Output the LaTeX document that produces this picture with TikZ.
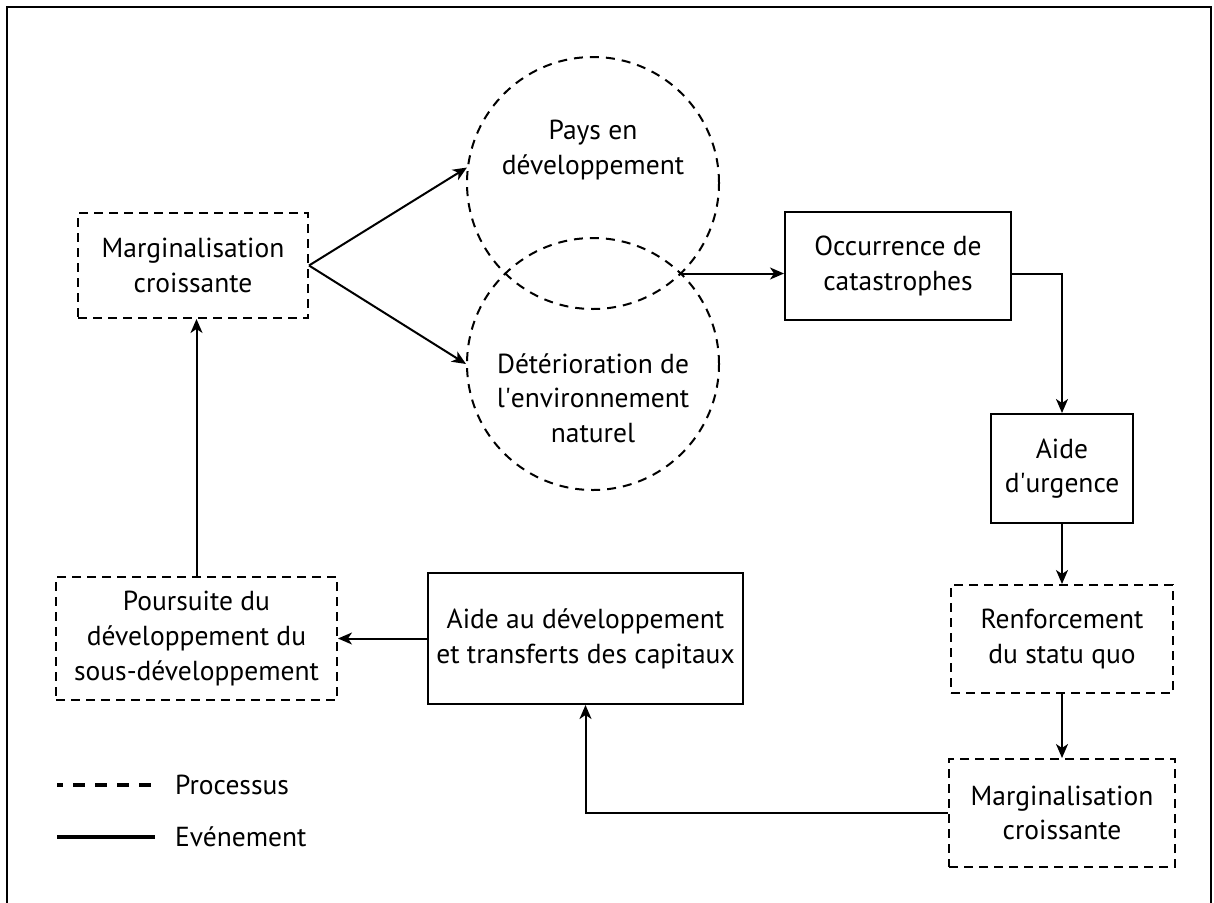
\documentclass[tikz,border=0pt]{standalone}
\usepackage{fontspec}
\setmainfont{PT Sans}
\usetikzlibrary{arrows.meta,calc}
\begin{document}
\begin{tikzpicture}[x=1pt,y=-1pt,
  every node/.style={font=\fontsize{27.5}{34.7}\selectfont, align=center, inner sep=0pt},
  evt/.style={draw, line width=2pt, rectangle},
  proc/.style={draw, line width=2pt, dash pattern=on 9pt off 6pt, rectangle},
  circ/.style={draw, line width=2pt, dash pattern=on 9pt off 7pt, circle, minimum size=252pt},
  conn/.style={line width=2pt},
  arr/.style={conn, -{Stealth[length=14pt,width=12pt,inset=4pt]}},
]
\useasboundingbox (0,0) rectangle (1214,902);
\draw[line width=2.5pt] (7,905) -- (7,7) -- (1211,7) -- (1211,905);

\node[proc, minimum width=230pt, minimum height=105pt] (m1) at (193,265.5) {Marginalisation\\croissante};
\node[circ] (c1) at (593,183) {};
\node[circ] (c2) at (593,364) {};
\node (t1) at (593,150) {Pays en\\développement};
\node (t2) at (593,398) {Détérioration de\\l\textquotesingle environnement\\naturel};
\coordinate (ix) at (681,273.5);

\node[evt, minimum width=226pt, minimum height=108pt] (occ) at (898,266) {Occurrence de\\catastrophes};
\node[evt, minimum width=142pt, minimum height=109pt] (urg) at (1062,468.5) {Aide\\d\textquotesingle urgence};
\node[proc, minimum width=222pt, minimum height=108pt] (ren) at (1062,639) {Renforcement\\du statu quo};
\node[proc, minimum width=226pt, minimum height=108pt] (m2) at (1062,813) {Marginalisation\\croissante};
\node[evt, minimum width=315pt, minimum height=131pt] (adv) at (585.5,638.5) {Aide au développement\\et transferts des capitaux};
\node[proc, minimum width=281pt, minimum height=123pt] (pou) at (196.5,638.5) {Poursuite du\\développement du\\sous-développement};

\draw[arr] (m1.east) -- (c1.173);
\draw[arr] (m1.east) -- (c2.west);
\draw[arr] (ix) -- (ix -| occ.west);
\draw[arr] (occ.east |- ix) -| (urg.north);
\draw[arr] (urg.south) -- (ren.north);
\draw[arr] (ren.south) -- (m2.north);
\draw[arr] (m2.west) -| (adv.south);
\draw[arr] (adv.west) -- (pou.east);
\draw[arr] (pou.north) -- (pou.north |- m1.south);

\coordinate (l1a) at (57,785);
\coordinate (l1b) at (155,785);
\coordinate (l2a) at (57,837);
\coordinate (l2b) at (155,837);
\draw[line width=3.5pt, dash pattern=on 12pt off 10pt, dash phase=6pt] (l1a) -- (l1b);
\draw[line width=3.5pt] (l2a) -- (l2b);
\node[anchor=west] (lp) at (175,785) {Processus};
\node[anchor=west] (le) at (175,837) {Evénement};
\end{tikzpicture}
\end{document}
